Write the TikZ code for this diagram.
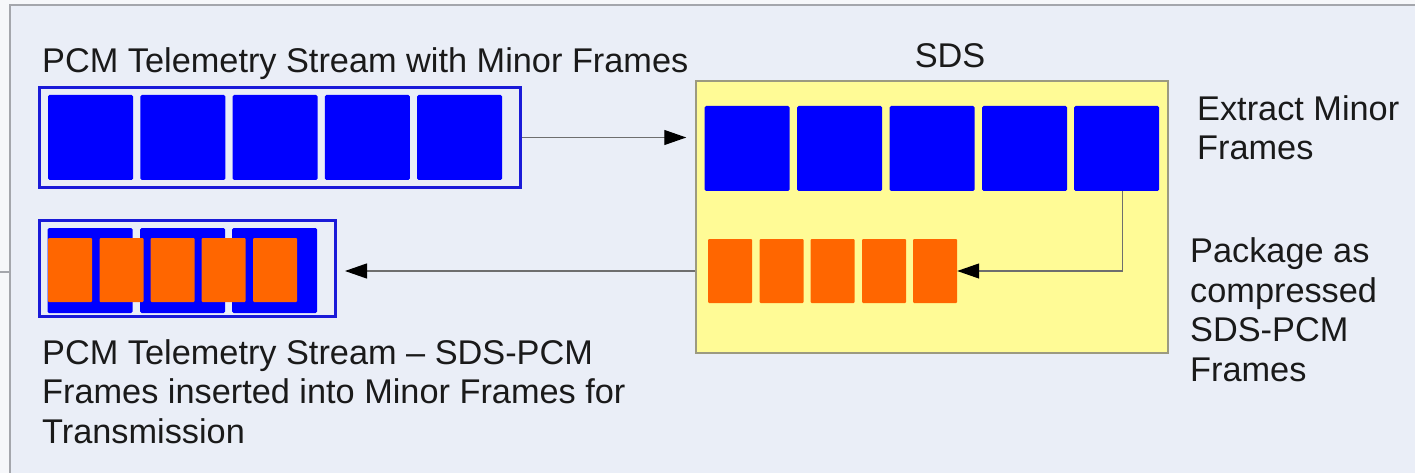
\documentclass[tikz,border=0pt]{standalone}
\usepackage{fontspec}
\setmainfont{Liberation Sans}
\usetikzlibrary{arrows.meta}
\definecolor{panelbg}{HTML}{EAEEF7}
\definecolor{outerbg}{HTML}{F6F7FA}
\definecolor{panelline}{HTML}{A4A6AC}
\definecolor{framblue}{HTML}{0000FF}
\definecolor{edgeblue}{HTML}{1A1AD8}
\definecolor{pkgorange}{HTML}{FF6600}
\definecolor{sdsyellow}{HTML}{FFFB96}
\definecolor{sdsedge}{HTML}{9C9A80}
\definecolor{linkgray}{HTML}{6E6E6E}
\definecolor{inkc}{HTML}{1A1A1A}
\tikzset{
  lbl/.style={inner sep=0pt, text=inkc, font=\fontsize{34.3}{39.5}\selectfont, align=left},
  bluesq/.style={fill=framblue, inner sep=0pt, minimum width=85pt, minimum height=85pt, rounded corners=1.5pt},
  orangesq/.style={fill=pkgorange, inner sep=0pt, minimum width=44pt, minimum height=64pt, rounded corners=1pt},
  streambox/.style={draw=edgeblue, line width=3pt, inner sep=0pt},
  sdsbox/.style={draw=sdsedge, fill=sdsyellow, line width=1.5pt, inner sep=0pt},
  link/.style={draw=linkgray, line width=1.2pt, -{Triangle[length=22pt,width=15pt,fill=black,color=black]}}
}
\begin{document}
\begin{tikzpicture}[x=1pt,y=-1pt]
  \useasboundingbox (0,0) rectangle (1415,473);
  % page and panel
  \fill[outerbg] (0,0) rectangle (1415,473);
  \fill[panelbg] (10,5) rectangle (1415,473);
  \draw[panelline, line width=2pt] (10,473) -- (10,5) -- (1415,5);
  \coordinate (stubA) at (0,272);
  \coordinate (stubB) at (9,272);
  \draw[panelline, line width=1.2pt] (stubA) -- (stubB);

  % incoming PCM stream
  \node[streambox, minimum width=481pt, minimum height=100pt] (topstream) at (280,137.5) {};
  \foreach \i/\x in {1/90.5, 2/182.75, 3/275, 4/367.25, 5/459.5}
    \node[bluesq] (tb\i) at (\x,137.5) {};
  \node[lbl, anchor=base west] (toptitle) at (42,73) {PCM Telemetry Stream with Minor Frames};

  % SDS processing block
  \node[sdsbox, minimum width=472pt, minimum height=272pt] (sds) at (932,217) {};
  \node[lbl, anchor=base] (sdstitle) at (950,68) {SDS};
  \foreach \i/\x in {1/747, 2/839.5, 3/932, 4/1024.5, 5/1116.5}
    \node[bluesq] (sb\i) at (\x,148.5) {};
  \foreach \i/\x in {1/730, 2/781.5, 3/832.5, 4/884, 5/935}
    \node[orangesq] (so\i) at (\x,271) {};

  % outgoing stream with SDS-PCM frames inserted
  \node[streambox, minimum width=296pt, minimum height=96pt] (botstream) at (187.5,268.5) {};
  \foreach \i/\x in {1/90, 2/182.5, 3/274.5}
    \node[bluesq] (bb\i) at (\x,270.5) {};
  \foreach \i/\x in {1/70, 2/121.5, 3/172.5, 4/223.5, 5/275}
    \node[orangesq] (bo\i) at (\x,270) {};

  % side notes (anchored on the baseline of their last line)
  \node[lbl, anchor=base west] (extract) at (1197,160) {Extract Minor\\Frames};
  \node[lbl, anchor=base west] (package) at (1190,381) {Package as\\compressed\\SDS-PCM\\Frames};
  \node[lbl, anchor=base west] (bottitle) at (42,443) {PCM Telemetry Stream – SDS-PCM\\Frames inserted into Minor Frames for\\Transmission};

  % data flow
  \draw[link, shorten >=9pt] (topstream.east) -- (sds.west |- topstream.east);
  \draw[link] ([xshift=6pt]sb5.south) |- (so5.east);
  \draw[link, shorten >=8pt] (sds.west |- so5.east) -- (botstream.east |- so5.east);
\end{tikzpicture}
\end{document}
